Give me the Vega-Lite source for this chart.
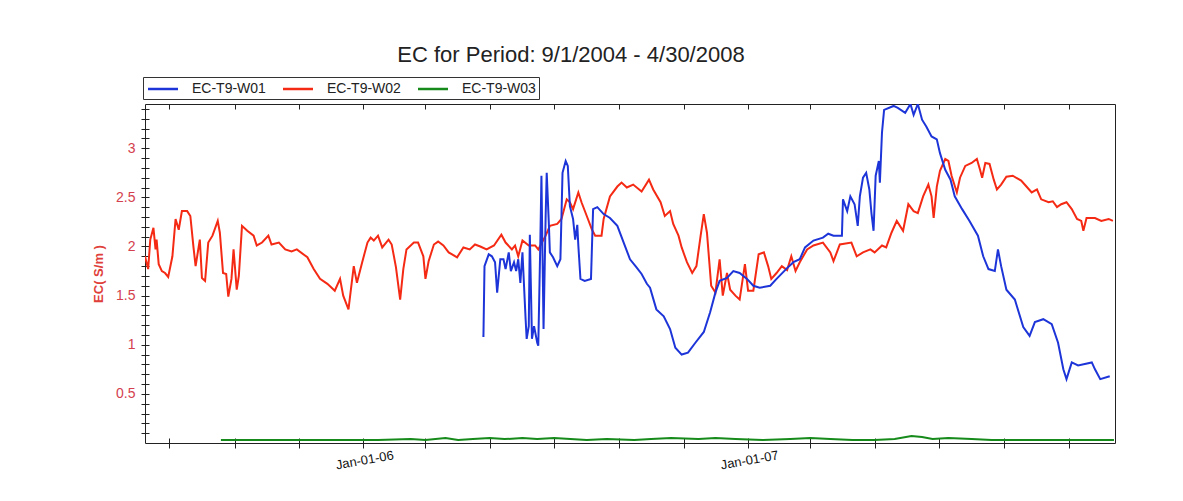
{
"$schema": "https://vega.github.io/schema/vega-lite/v6.json",
"width": 970, "height": 339,
"autosize": {"type": "none"},
"padding": {"left": 145, "top": 104, "right": 68, "bottom": 58},
"background": "white",
"config": {"view": {"stroke": "#222", "strokeWidth": 1}, "font": "Liberation Sans"},
"title": {"text": "EC for Period: 9/1/2004 - 4/30/2008", "fontSize": 22, "fontWeight": "normal", "color": "#222", "anchor": "middle", "dx": -59, "offset": 10},
"data": {"values": [
{"series":"EC-T9-W02","date":"2005-06-08","ec":1.90},{"series":"EC-T9-W02","date":"2005-06-11","ec":1.77},{"series":"EC-T9-W02","date":"2005-06-13","ec":2.07},{"series":"EC-T9-W02","date":"2005-06-16","ec":2.19},{"series":"EC-T9-W02","date":"2005-06-18","ec":1.97},{"series":"EC-T9-W02","date":"2005-06-19","ec":2.07},{"series":"EC-T9-W02","date":"2005-06-21","ec":1.82},{"series":"EC-T9-W02","date":"2005-06-24","ec":1.75},{"series":"EC-T9-W02","date":"2005-06-27","ec":1.73},{"series":"EC-T9-W02","date":"2005-06-30","ec":1.69},
{"series":"EC-T9-W02","date":"2005-07-04","ec":1.90},{"series":"EC-T9-W02","date":"2005-07-07","ec":2.28},{"series":"EC-T9-W02","date":"2005-07-10","ec":2.17},{"series":"EC-T9-W02","date":"2005-07-13","ec":2.36},{"series":"EC-T9-W02","date":"2005-07-18","ec":2.36},{"series":"EC-T9-W02","date":"2005-07-21","ec":2.31},{"series":"EC-T9-W02","date":"2005-07-24","ec":1.99},{"series":"EC-T9-W02","date":"2005-07-26","ec":1.80},{"series":"EC-T9-W02","date":"2005-07-30","ec":2.07},
{"series":"EC-T9-W02","date":"2005-08-01","ec":1.68},{"series":"EC-T9-W02","date":"2005-08-04","ec":1.65},{"series":"EC-T9-W02","date":"2005-08-07","ec":2.04},{"series":"EC-T9-W02","date":"2005-08-11","ec":2.11},{"series":"EC-T9-W02","date":"2005-08-16","ec":2.26},{"series":"EC-T9-W02","date":"2005-08-18","ec":2.14},{"series":"EC-T9-W02","date":"2005-08-21","ec":1.73},{"series":"EC-T9-W02","date":"2005-08-24","ec":1.72},{"series":"EC-T9-W02","date":"2005-08-26","ec":1.49},{"series":"EC-T9-W02","date":"2005-08-29","ec":1.67},{"series":"EC-T9-W02","date":"2005-08-31","ec":1.97},
{"series":"EC-T9-W02","date":"2005-09-03","ec":1.56},{"series":"EC-T9-W02","date":"2005-09-05","ec":1.70},{"series":"EC-T9-W02","date":"2005-09-08","ec":2.21},{"series":"EC-T9-W02","date":"2005-09-13","ec":2.16},{"series":"EC-T9-W02","date":"2005-09-19","ec":2.11},{"series":"EC-T9-W02","date":"2005-09-22","ec":2.01},{"series":"EC-T9-W02","date":"2005-09-27","ec":2.04},
{"series":"EC-T9-W02","date":"2005-10-03","ec":2.11},{"series":"EC-T9-W02","date":"2005-10-06","ec":2.02},{"series":"EC-T9-W02","date":"2005-10-13","ec":2.04},{"series":"EC-T9-W02","date":"2005-10-19","ec":1.97},{"series":"EC-T9-W02","date":"2005-10-25","ec":1.95},{"series":"EC-T9-W02","date":"2005-10-30","ec":1.97},
{"series":"EC-T9-W02","date":"2005-11-09","ec":1.89},{"series":"EC-T9-W02","date":"2005-11-15","ec":1.77},{"series":"EC-T9-W02","date":"2005-11-21","ec":1.67},{"series":"EC-T9-W02","date":"2005-11-28","ec":1.62},
{"series":"EC-T9-W02","date":"2005-12-02","ec":1.58},{"series":"EC-T9-W02","date":"2005-12-05","ec":1.55},{"series":"EC-T9-W02","date":"2005-12-10","ec":1.67},{"series":"EC-T9-W02","date":"2005-12-13","ec":1.50},{"series":"EC-T9-W02","date":"2005-12-18","ec":1.36},{"series":"EC-T9-W02","date":"2005-12-23","ec":1.80},{"series":"EC-T9-W02","date":"2005-12-26","ec":1.63},{"series":"EC-T9-W02","date":"2005-12-31","ec":1.84},
{"series":"EC-T9-W02","date":"2006-01-05","ec":2.04},{"series":"EC-T9-W02","date":"2006-01-08","ec":2.09},{"series":"EC-T9-W02","date":"2006-01-11","ec":2.06},{"series":"EC-T9-W02","date":"2006-01-15","ec":2.11},{"series":"EC-T9-W02","date":"2006-01-19","ec":1.99},{"series":"EC-T9-W02","date":"2006-01-25","ec":2.07},{"series":"EC-T9-W02","date":"2006-01-28","ec":2.02},
{"series":"EC-T9-W02","date":"2006-02-01","ec":1.79},{"series":"EC-T9-W02","date":"2006-02-05","ec":1.46},{"series":"EC-T9-W02","date":"2006-02-08","ec":1.77},{"series":"EC-T9-W02","date":"2006-02-11","ec":1.97},{"series":"EC-T9-W02","date":"2006-02-18","ec":2.04},{"series":"EC-T9-W02","date":"2006-02-22","ec":2.04},{"series":"EC-T9-W02","date":"2006-02-27","ec":1.90},
{"series":"EC-T9-W02","date":"2006-03-01","ec":1.67},{"series":"EC-T9-W02","date":"2006-03-04","ec":1.85},{"series":"EC-T9-W02","date":"2006-03-09","ec":2.02},{"series":"EC-T9-W02","date":"2006-03-13","ec":2.05},{"series":"EC-T9-W02","date":"2006-03-18","ec":2.01},{"series":"EC-T9-W02","date":"2006-03-23","ec":1.94},{"series":"EC-T9-W02","date":"2006-03-31","ec":1.89},
{"series":"EC-T9-W02","date":"2006-04-06","ec":1.99},{"series":"EC-T9-W02","date":"2006-04-12","ec":1.97},{"series":"EC-T9-W02","date":"2006-04-17","ec":2.02},{"series":"EC-T9-W02","date":"2006-04-22","ec":2.00},{"series":"EC-T9-W02","date":"2006-04-28","ec":1.97},
{"series":"EC-T9-W02","date":"2006-05-05","ec":2.01},{"series":"EC-T9-W02","date":"2006-05-12","ec":2.12},{"series":"EC-T9-W02","date":"2006-05-16","ec":2.04},{"series":"EC-T9-W02","date":"2006-05-22","ec":1.97},{"series":"EC-T9-W02","date":"2006-05-25","ec":2.01},{"series":"EC-T9-W02","date":"2006-05-28","ec":1.90},
{"series":"EC-T9-W02","date":"2006-06-01","ec":2.06},{"series":"EC-T9-W02","date":"2006-06-07","ec":2.01},{"series":"EC-T9-W02","date":"2006-06-13","ec":2.01},{"series":"EC-T9-W02","date":"2006-06-16","ec":1.97},{"series":"EC-T9-W02","date":"2006-06-23","ec":2.11},{"series":"EC-T9-W02","date":"2006-06-27","ec":2.21},
{"series":"EC-T9-W02","date":"2006-07-04","ec":2.23},{"series":"EC-T9-W02","date":"2006-07-08","ec":2.28},{"series":"EC-T9-W02","date":"2006-07-13","ec":2.48},{"series":"EC-T9-W02","date":"2006-07-16","ec":2.45},{"series":"EC-T9-W02","date":"2006-07-19","ec":2.38},{"series":"EC-T9-W02","date":"2006-07-24","ec":2.55},{"series":"EC-T9-W02","date":"2006-07-27","ec":2.45},
{"series":"EC-T9-W02","date":"2006-08-01","ec":2.31},{"series":"EC-T9-W02","date":"2006-08-06","ec":2.17},{"series":"EC-T9-W02","date":"2006-08-09","ec":2.11},{"series":"EC-T9-W02","date":"2006-08-15","ec":2.11},{"series":"EC-T9-W02","date":"2006-08-17","ec":2.28},{"series":"EC-T9-W02","date":"2006-08-23","ec":2.51},{"series":"EC-T9-W02","date":"2006-08-30","ec":2.61},
{"series":"EC-T9-W02","date":"2006-09-03","ec":2.65},{"series":"EC-T9-W02","date":"2006-09-08","ec":2.60},{"series":"EC-T9-W02","date":"2006-09-14","ec":2.63},{"series":"EC-T9-W02","date":"2006-09-22","ec":2.56},{"series":"EC-T9-W02","date":"2006-09-29","ec":2.68},
{"series":"EC-T9-W02","date":"2006-10-03","ec":2.58},{"series":"EC-T9-W02","date":"2006-10-10","ec":2.45},{"series":"EC-T9-W02","date":"2006-10-14","ec":2.31},{"series":"EC-T9-W02","date":"2006-10-19","ec":2.36},{"series":"EC-T9-W02","date":"2006-10-22","ec":2.23},{"series":"EC-T9-W02","date":"2006-10-27","ec":2.11},{"series":"EC-T9-W02","date":"2006-10-30","ec":1.99},
{"series":"EC-T9-W02","date":"2006-11-04","ec":1.84},{"series":"EC-T9-W02","date":"2006-11-09","ec":1.73},{"series":"EC-T9-W02","date":"2006-11-13","ec":1.80},{"series":"EC-T9-W02","date":"2006-11-17","ec":2.11},{"series":"EC-T9-W02","date":"2006-11-20","ec":2.33},{"series":"EC-T9-W02","date":"2006-11-23","ec":2.14},{"series":"EC-T9-W02","date":"2006-11-27","ec":1.60},
{"series":"EC-T9-W02","date":"2006-12-01","ec":1.53},{"series":"EC-T9-W02","date":"2006-12-05","ec":1.87},{"series":"EC-T9-W02","date":"2006-12-08","ec":1.50},{"series":"EC-T9-W02","date":"2006-12-12","ec":1.73},{"series":"EC-T9-W02","date":"2006-12-15","ec":1.56},{"series":"EC-T9-W02","date":"2006-12-20","ec":1.50},{"series":"EC-T9-W02","date":"2006-12-24","ec":1.46},{"series":"EC-T9-W02","date":"2006-12-29","ec":1.82},
{"series":"EC-T9-W02","date":"2007-01-01","ec":1.55},{"series":"EC-T9-W02","date":"2007-01-06","ec":1.55},{"series":"EC-T9-W02","date":"2007-01-11","ec":1.92},{"series":"EC-T9-W02","date":"2007-01-16","ec":1.94},{"series":"EC-T9-W02","date":"2007-01-20","ec":1.80},{"series":"EC-T9-W02","date":"2007-01-23","ec":1.67},{"series":"EC-T9-W02","date":"2007-01-28","ec":1.73},
{"series":"EC-T9-W02","date":"2007-02-02","ec":1.80},{"series":"EC-T9-W02","date":"2007-02-07","ec":1.76},{"series":"EC-T9-W02","date":"2007-02-11","ec":1.90},{"series":"EC-T9-W02","date":"2007-02-15","ec":1.75},{"series":"EC-T9-W02","date":"2007-02-19","ec":1.84},{"series":"EC-T9-W02","date":"2007-02-26","ec":1.97},
{"series":"EC-T9-W02","date":"2007-03-04","ec":2.01},{"series":"EC-T9-W02","date":"2007-03-13","ec":2.04},{"series":"EC-T9-W02","date":"2007-03-20","ec":1.94},{"series":"EC-T9-W02","date":"2007-03-23","ec":1.85},{"series":"EC-T9-W02","date":"2007-03-29","ec":2.02},
{"series":"EC-T9-W02","date":"2007-04-09","ec":2.04},{"series":"EC-T9-W02","date":"2007-04-14","ec":1.90},{"series":"EC-T9-W02","date":"2007-04-20","ec":1.94},{"series":"EC-T9-W02","date":"2007-04-27","ec":1.97},
{"series":"EC-T9-W02","date":"2007-05-01","ec":1.94},{"series":"EC-T9-W02","date":"2007-05-08","ec":2.01},{"series":"EC-T9-W02","date":"2007-05-12","ec":1.99},{"series":"EC-T9-W02","date":"2007-05-17","ec":2.14},{"series":"EC-T9-W02","date":"2007-05-22","ec":2.26},{"series":"EC-T9-W02","date":"2007-05-28","ec":2.16},
{"series":"EC-T9-W02","date":"2007-06-02","ec":2.43},{"series":"EC-T9-W02","date":"2007-06-07","ec":2.36},{"series":"EC-T9-W02","date":"2007-06-11","ec":2.34},{"series":"EC-T9-W02","date":"2007-06-16","ec":2.51},{"series":"EC-T9-W02","date":"2007-06-21","ec":2.63},{"series":"EC-T9-W02","date":"2007-06-24","ec":2.51},{"series":"EC-T9-W02","date":"2007-06-26","ec":2.29},{"series":"EC-T9-W02","date":"2007-06-29","ec":2.61},
{"series":"EC-T9-W02","date":"2007-07-02","ec":2.77},{"series":"EC-T9-W02","date":"2007-07-07","ec":2.89},{"series":"EC-T9-W02","date":"2007-07-10","ec":2.87},{"series":"EC-T9-W02","date":"2007-07-13","ec":2.72},{"series":"EC-T9-W02","date":"2007-07-18","ec":2.55},{"series":"EC-T9-W02","date":"2007-07-21","ec":2.70},{"series":"EC-T9-W02","date":"2007-07-26","ec":2.82},
{"series":"EC-T9-W02","date":"2007-08-01","ec":2.85},{"series":"EC-T9-W02","date":"2007-08-06","ec":2.89},{"series":"EC-T9-W02","date":"2007-08-09","ec":2.78},{"series":"EC-T9-W02","date":"2007-08-11","ec":2.70},{"series":"EC-T9-W02","date":"2007-08-14","ec":2.85},{"series":"EC-T9-W02","date":"2007-08-18","ec":2.84},{"series":"EC-T9-W02","date":"2007-08-22","ec":2.68},{"series":"EC-T9-W02","date":"2007-08-25","ec":2.58},{"series":"EC-T9-W02","date":"2007-08-29","ec":2.63},
{"series":"EC-T9-W02","date":"2007-09-03","ec":2.71},{"series":"EC-T9-W02","date":"2007-09-09","ec":2.72},{"series":"EC-T9-W02","date":"2007-09-17","ec":2.67},{"series":"EC-T9-W02","date":"2007-09-22","ec":2.61},{"series":"EC-T9-W02","date":"2007-09-27","ec":2.55},
{"series":"EC-T9-W02","date":"2007-10-02","ec":2.58},{"series":"EC-T9-W02","date":"2007-10-06","ec":2.48},{"series":"EC-T9-W02","date":"2007-10-13","ec":2.45},{"series":"EC-T9-W02","date":"2007-10-17","ec":2.46},{"series":"EC-T9-W02","date":"2007-10-21","ec":2.40},{"series":"EC-T9-W02","date":"2007-10-25","ec":2.43},{"series":"EC-T9-W02","date":"2007-10-30","ec":2.45},
{"series":"EC-T9-W02","date":"2007-11-04","ec":2.38},{"series":"EC-T9-W02","date":"2007-11-09","ec":2.28},{"series":"EC-T9-W02","date":"2007-11-13","ec":2.26},{"series":"EC-T9-W02","date":"2007-11-15","ec":2.16},{"series":"EC-T9-W02","date":"2007-11-18","ec":2.29},{"series":"EC-T9-W02","date":"2007-11-26","ec":2.29},
{"series":"EC-T9-W02","date":"2007-12-02","ec":2.26},{"series":"EC-T9-W02","date":"2007-12-09","ec":2.28},{"series":"EC-T9-W02","date":"2007-12-13","ec":2.26},

{"series":"EC-T9-W01","date":"2006-04-24","ec":1.09},{"series":"EC-T9-W01","date":"2006-04-25","ec":1.09},{"series":"EC-T9-W01","date":"2006-04-26","ec":1.80},{"series":"EC-T9-W01","date":"2006-04-30","ec":1.92},
{"series":"EC-T9-W01","date":"2006-05-03","ec":1.90},{"series":"EC-T9-W01","date":"2006-05-06","ec":1.84},{"series":"EC-T9-W01","date":"2006-05-08","ec":1.53},{"series":"EC-T9-W01","date":"2006-05-11","ec":1.87},{"series":"EC-T9-W01","date":"2006-05-14","ec":1.87},{"series":"EC-T9-W01","date":"2006-05-16","ec":1.77},{"series":"EC-T9-W01","date":"2006-05-19","ec":1.94},{"series":"EC-T9-W01","date":"2006-05-21","ec":1.75},{"series":"EC-T9-W01","date":"2006-05-24","ec":1.84},{"series":"EC-T9-W01","date":"2006-05-26","ec":1.75},{"series":"EC-T9-W01","date":"2006-05-28","ec":1.87},{"series":"EC-T9-W01","date":"2006-05-30","ec":1.63},
{"series":"EC-T9-W01","date":"2006-06-01","ec":1.94},{"series":"EC-T9-W01","date":"2006-06-04","ec":1.26},{"series":"EC-T9-W01","date":"2006-06-05","ec":1.06},{"series":"EC-T9-W01","date":"2006-06-07","ec":1.19},{"series":"EC-T9-W01","date":"2006-06-08","ec":2.12},{"series":"EC-T9-W01","date":"2006-06-10","ec":1.06},{"series":"EC-T9-W01","date":"2006-06-12","ec":1.19},{"series":"EC-T9-W01","date":"2006-06-15","ec":1.02},{"series":"EC-T9-W01","date":"2006-06-16","ec":0.99},{"series":"EC-T9-W01","date":"2006-06-18","ec":2.07},{"series":"EC-T9-W01","date":"2006-06-19","ec":2.72},{"series":"EC-T9-W01","date":"2006-06-21","ec":1.16},{"series":"EC-T9-W01","date":"2006-06-23","ec":2.31},{"series":"EC-T9-W01","date":"2006-06-24","ec":2.75},{"series":"EC-T9-W01","date":"2006-06-26","ec":2.24},{"series":"EC-T9-W01","date":"2006-06-27","ec":1.94},{"series":"EC-T9-W01","date":"2006-06-30","ec":1.89},
{"series":"EC-T9-W01","date":"2006-07-04","ec":1.80},{"series":"EC-T9-W01","date":"2006-07-07","ec":1.87},{"series":"EC-T9-W01","date":"2006-07-09","ec":2.75},{"series":"EC-T9-W01","date":"2006-07-12","ec":2.87},{"series":"EC-T9-W01","date":"2006-07-14","ec":2.82},{"series":"EC-T9-W01","date":"2006-07-16","ec":2.41},{"series":"EC-T9-W01","date":"2006-07-19","ec":2.28},{"series":"EC-T9-W01","date":"2006-07-21","ec":2.07},{"series":"EC-T9-W01","date":"2006-07-23","ec":2.22},{"series":"EC-T9-W01","date":"2006-07-24","ec":2.01},{"series":"EC-T9-W01","date":"2006-07-26","ec":1.67},{"series":"EC-T9-W01","date":"2006-07-30","ec":1.65},
{"series":"EC-T9-W01","date":"2006-08-05","ec":1.67},{"series":"EC-T9-W01","date":"2006-08-07","ec":2.38},{"series":"EC-T9-W01","date":"2006-08-11","ec":2.40},{"series":"EC-T9-W01","date":"2006-08-17","ec":2.33},{"series":"EC-T9-W01","date":"2006-08-23","ec":2.29},{"series":"EC-T9-W01","date":"2006-08-30","ec":2.21},
{"series":"EC-T9-W01","date":"2006-09-05","ec":2.04},{"series":"EC-T9-W01","date":"2006-09-11","ec":1.87},{"series":"EC-T9-W01","date":"2006-09-17","ec":1.79},{"series":"EC-T9-W01","date":"2006-09-22","ec":1.72},{"series":"EC-T9-W01","date":"2006-09-27","ec":1.62},{"series":"EC-T9-W01","date":"2006-09-30","ec":1.58},
{"series":"EC-T9-W01","date":"2006-10-06","ec":1.36},{"series":"EC-T9-W01","date":"2006-10-13","ec":1.29},{"series":"EC-T9-W01","date":"2006-10-19","ec":1.16},{"series":"EC-T9-W01","date":"2006-10-24","ec":0.97},{"series":"EC-T9-W01","date":"2006-10-30","ec":0.90},
{"series":"EC-T9-W01","date":"2006-11-05","ec":0.92},{"series":"EC-T9-W01","date":"2006-11-12","ec":1.02},{"series":"EC-T9-W01","date":"2006-11-20","ec":1.13},{"series":"EC-T9-W01","date":"2006-11-26","ec":1.33},
{"series":"EC-T9-W01","date":"2006-12-01","ec":1.53},{"series":"EC-T9-W01","date":"2006-12-05","ec":1.65},{"series":"EC-T9-W01","date":"2006-12-12","ec":1.68},{"series":"EC-T9-W01","date":"2006-12-18","ec":1.75},{"series":"EC-T9-W01","date":"2006-12-24","ec":1.73},{"series":"EC-T9-W01","date":"2006-12-31","ec":1.67},
{"series":"EC-T9-W01","date":"2007-01-06","ec":1.60},{"series":"EC-T9-W01","date":"2007-01-12","ec":1.58},{"series":"EC-T9-W01","date":"2007-01-22","ec":1.60},{"series":"EC-T9-W01","date":"2007-01-28","ec":1.67},
{"series":"EC-T9-W01","date":"2007-02-07","ec":1.78},{"series":"EC-T9-W01","date":"2007-02-13","ec":1.84},{"series":"EC-T9-W01","date":"2007-02-19","ec":1.87},{"series":"EC-T9-W01","date":"2007-02-24","ec":1.99},
{"series":"EC-T9-W01","date":"2007-03-04","ec":2.06},{"series":"EC-T9-W01","date":"2007-03-13","ec":2.09},{"series":"EC-T9-W01","date":"2007-03-18","ec":2.13},{"series":"EC-T9-W01","date":"2007-03-23","ec":2.11},{"series":"EC-T9-W01","date":"2007-03-31","ec":2.11},
{"series":"EC-T9-W01","date":"2007-04-01","ec":2.48},{"series":"EC-T9-W01","date":"2007-04-05","ec":2.36},{"series":"EC-T9-W01","date":"2007-04-08","ec":2.51},{"series":"EC-T9-W01","date":"2007-04-12","ec":2.43},{"series":"EC-T9-W01","date":"2007-04-15","ec":2.21},{"series":"EC-T9-W01","date":"2007-04-17","ec":2.51},{"series":"EC-T9-W01","date":"2007-04-20","ec":2.70},{"series":"EC-T9-W01","date":"2007-04-23","ec":2.75},{"series":"EC-T9-W01","date":"2007-04-26","ec":2.58},{"series":"EC-T9-W01","date":"2007-04-28","ec":2.34},{"series":"EC-T9-W01","date":"2007-04-30","ec":2.16},
{"series":"EC-T9-W01","date":"2007-05-02","ec":2.72},{"series":"EC-T9-W01","date":"2007-05-05","ec":2.87},{"series":"EC-T9-W01","date":"2007-05-06","ec":2.65},{"series":"EC-T9-W01","date":"2007-05-08","ec":3.16},{"series":"EC-T9-W01","date":"2007-05-10","ec":3.39},{"series":"EC-T9-W01","date":"2007-05-19","ec":3.43},{"series":"EC-T9-W01","date":"2007-05-23","ec":3.41},{"series":"EC-T9-W01","date":"2007-05-30","ec":3.36},
{"series":"EC-T9-W01","date":"2007-06-04","ec":3.45},{"series":"EC-T9-W01","date":"2007-06-07","ec":3.34},{"series":"EC-T9-W01","date":"2007-06-11","ec":3.45},{"series":"EC-T9-W01","date":"2007-06-15","ec":3.29},{"series":"EC-T9-W01","date":"2007-06-19","ec":3.22},{"series":"EC-T9-W01","date":"2007-06-24","ec":3.12},{"series":"EC-T9-W01","date":"2007-06-29","ec":3.09},
{"series":"EC-T9-W01","date":"2007-07-02","ec":2.95},{"series":"EC-T9-W01","date":"2007-07-07","ec":2.78},{"series":"EC-T9-W01","date":"2007-07-12","ec":2.68},{"series":"EC-T9-W01","date":"2007-07-16","ec":2.51},{"series":"EC-T9-W01","date":"2007-07-23","ec":2.38},{"series":"EC-T9-W01","date":"2007-07-30","ec":2.26},
{"series":"EC-T9-W01","date":"2007-08-07","ec":2.11},{"series":"EC-T9-W01","date":"2007-08-12","ec":1.90},{"series":"EC-T9-W01","date":"2007-08-17","ec":1.77},{"series":"EC-T9-W01","date":"2007-08-23","ec":1.75},{"series":"EC-T9-W01","date":"2007-08-26","ec":1.97},{"series":"EC-T9-W01","date":"2007-08-29","ec":1.80},
{"series":"EC-T9-W01","date":"2007-09-03","ec":1.56},{"series":"EC-T9-W01","date":"2007-09-11","ec":1.46},{"series":"EC-T9-W01","date":"2007-09-19","ec":1.18},{"series":"EC-T9-W01","date":"2007-09-25","ec":1.09},{"series":"EC-T9-W01","date":"2007-09-30","ec":1.23},
{"series":"EC-T9-W01","date":"2007-10-08","ec":1.26},{"series":"EC-T9-W01","date":"2007-10-16","ec":1.21},{"series":"EC-T9-W01","date":"2007-10-22","ec":1.02},{"series":"EC-T9-W01","date":"2007-10-27","ec":0.75},{"series":"EC-T9-W01","date":"2007-10-30","ec":0.65},
{"series":"EC-T9-W01","date":"2007-11-04","ec":0.82},{"series":"EC-T9-W01","date":"2007-11-10","ec":0.79},{"series":"EC-T9-W01","date":"2007-11-23","ec":0.82},{"series":"EC-T9-W01","date":"2007-11-26","ec":0.75},{"series":"EC-T9-W01","date":"2007-12-01","ec":0.65},{"series":"EC-T9-W01","date":"2007-12-10","ec":0.68},

{"series":"EC-T9-W03","date":"2005-08-19","ec":0.03},{"series":"EC-T9-W03","date":"2005-09-15","ec":0.03},{"series":"EC-T9-W03","date":"2005-10-15","ec":0.03},{"series":"EC-T9-W03","date":"2005-11-15","ec":0.03},{"series":"EC-T9-W03","date":"2005-12-15","ec":0.03},{"series":"EC-T9-W03","date":"2006-01-15","ec":0.03},{"series":"EC-T9-W03","date":"2006-02-15","ec":0.04},{"series":"EC-T9-W03","date":"2006-03-01","ec":0.03},{"series":"EC-T9-W03","date":"2006-03-20","ec":0.05},{"series":"EC-T9-W03","date":"2006-04-01","ec":0.03},{"series":"EC-T9-W03","date":"2006-04-15","ec":0.04},{"series":"EC-T9-W03","date":"2006-05-01","ec":0.05},{"series":"EC-T9-W03","date":"2006-05-15","ec":0.04},{"series":"EC-T9-W03","date":"2006-06-01","ec":0.05},{"series":"EC-T9-W03","date":"2006-06-15","ec":0.04},{"series":"EC-T9-W03","date":"2006-07-01","ec":0.05},{"series":"EC-T9-W03","date":"2006-08-01","ec":0.03},{"series":"EC-T9-W03","date":"2006-08-20","ec":0.04},{"series":"EC-T9-W03","date":"2006-09-15","ec":0.03},{"series":"EC-T9-W03","date":"2006-10-01","ec":0.04},{"series":"EC-T9-W03","date":"2006-10-20","ec":0.05},{"series":"EC-T9-W03","date":"2006-11-15","ec":0.04},{"series":"EC-T9-W03","date":"2006-12-01","ec":0.05},{"series":"EC-T9-W03","date":"2006-12-20","ec":0.04},{"series":"EC-T9-W03","date":"2007-01-15","ec":0.03},{"series":"EC-T9-W03","date":"2007-02-10","ec":0.04},{"series":"EC-T9-W03","date":"2007-03-01","ec":0.05},{"series":"EC-T9-W03","date":"2007-03-20","ec":0.04},{"series":"EC-T9-W03","date":"2007-04-10","ec":0.03},{"series":"EC-T9-W03","date":"2007-05-01","ec":0.03},{"series":"EC-T9-W03","date":"2007-05-20","ec":0.04},{"series":"EC-T9-W03","date":"2007-06-05","ec":0.07},{"series":"EC-T9-W03","date":"2007-06-15","ec":0.06},{"series":"EC-T9-W03","date":"2007-06-25","ec":0.04},{"series":"EC-T9-W03","date":"2007-07-10","ec":0.05},{"series":"EC-T9-W03","date":"2007-08-01","ec":0.04},{"series":"EC-T9-W03","date":"2007-08-20","ec":0.03},{"series":"EC-T9-W03","date":"2007-09-15","ec":0.03},{"series":"EC-T9-W03","date":"2007-10-15","ec":0.03},{"series":"EC-T9-W03","date":"2007-11-15","ec":0.03},{"series":"EC-T9-W03","date":"2007-12-14","ec":0.03}
]},
"resolve": {"axis": {"x": "independent"}},
"layer": [
{"mark": {"type": "line", "strokeWidth": 2, "clip": true},
 "encoding": {
  "x": {"field": "date", "type": "temporal",
    "scale": {"type": "utc", "domain": [{"year": 2005, "month": 6, "date": 8, "utc": true}, {"year": 2007, "month": 12, "date": 15, "utc": true}]},
    "axis": {"orient": "bottom", "title": null, "grid": false, "domain": false, "offset": -5, "tickSize": 10, "tickColor": "#222", "tickCount": 100,
      "values": [{"year":2005,"month":7,"date":1,"utc":true},{"year":2005,"month":9,"date":1,"utc":true},{"year":2005,"month":11,"date":1,"utc":true},{"year":2006,"month":1,"date":1,"utc":true},{"year":2006,"month":3,"date":1,"utc":true},{"year":2006,"month":5,"date":1,"utc":true},{"year":2006,"month":7,"date":1,"utc":true},{"year":2006,"month":9,"date":1,"utc":true},{"year":2006,"month":11,"date":1,"utc":true},{"year":2007,"month":1,"date":1,"utc":true},{"year":2007,"month":3,"date":1,"utc":true},{"year":2007,"month":5,"date":1,"utc":true},{"year":2007,"month":7,"date":1,"utc":true},{"year":2007,"month":9,"date":1,"utc":true},{"year":2007,"month":11,"date":1,"utc":true}],
      "labelExpr": "utcmonth(datum.value) == 0 ? utcFormat(datum.value, '%b-%d-%y') : ''",
      "labelAngle": -10, "labelAlign": "center", "labelBaseline": "top", "labelPadding": 6, "labelFontSize": 13, "labelColor": "#111", "labelFlush": false, "labelOverlap": false}},
  "y": {"field": "ec", "type": "quantitative",
    "scale": {"domain": [0, 3.45], "nice": false, "zero": false},
    "axis": {"title": "EC( S/m )", "titleColor": "#e0403a", "titleFontWeight": "bold", "titleFontSize": 13, "titlePadding": 10,
      "grid": false, "domain": false, "offset": -4, "tickSize": 8, "tickColor": "#222", "tickCount": 100, "labelOverlap": false,
      "values": [0.1,0.2,0.3,0.4,0.5,0.6,0.7,0.8,0.9,1,1.1,1.2,1.3,1.4,1.5,1.6,1.7,1.8,1.9,2,2.1,2.2,2.3,2.4,2.5,2.6,2.7,2.8,2.9,3,3.1,3.2,3.3,3.4],
      "labelExpr": "indexof(['0.5','1','1.5','2','2.5','3'], format(datum.value, '~g')) >= 0 ? format(datum.value, '~g') : ''",
      "labelColor": "#d4404e", "labelFontSize": 14, "labelPadding": 6}},
  "color": {"field": "series", "type": "nominal",
    "scale": {"domain": ["EC-T9-W01", "EC-T9-W02", "EC-T9-W03"], "range": ["#1d35d8", "#f52a14", "#168a1a"]},
    "legend": {"orient": "none", "legendX": -2, "legendY": -27, "direction": "horizontal", "columns": 3, "title": null,
      "symbolType": "M-2,0L2,0", "symbolSize": 225, "symbolStrokeWidth": 2.5, "symbolOffset": 8, "labelFontSize": 14, "labelColor": "#222",
      "labelOffset": 20, "columnPadding": 12, "strokeColor": "#333", "padding": 3, "fillColor": "white"}}
 }},
{"mark": {"type": "line", "strokeOpacity": 0},
 "encoding": {
  "x": {"field": "date", "type": "temporal",
    "axis": {"orient": "top", "title": null, "grid": false, "domain": false, "labels": false, "offset": -5, "tickSize": 5, "tickColor": "#222", "tickCount": 100,
      "values": [{"year":2005,"month":7,"date":1,"utc":true},{"year":2005,"month":9,"date":1,"utc":true},{"year":2005,"month":11,"date":1,"utc":true},{"year":2006,"month":1,"date":1,"utc":true},{"year":2006,"month":3,"date":1,"utc":true},{"year":2006,"month":5,"date":1,"utc":true},{"year":2006,"month":7,"date":1,"utc":true},{"year":2006,"month":9,"date":1,"utc":true},{"year":2006,"month":11,"date":1,"utc":true},{"year":2007,"month":1,"date":1,"utc":true},{"year":2007,"month":3,"date":1,"utc":true},{"year":2007,"month":5,"date":1,"utc":true},{"year":2007,"month":7,"date":1,"utc":true},{"year":2007,"month":9,"date":1,"utc":true},{"year":2007,"month":11,"date":1,"utc":true}]}},
  "y": {"field": "ec", "type": "quantitative"},
  "detail": {"field": "series"}
 }}
]
}
